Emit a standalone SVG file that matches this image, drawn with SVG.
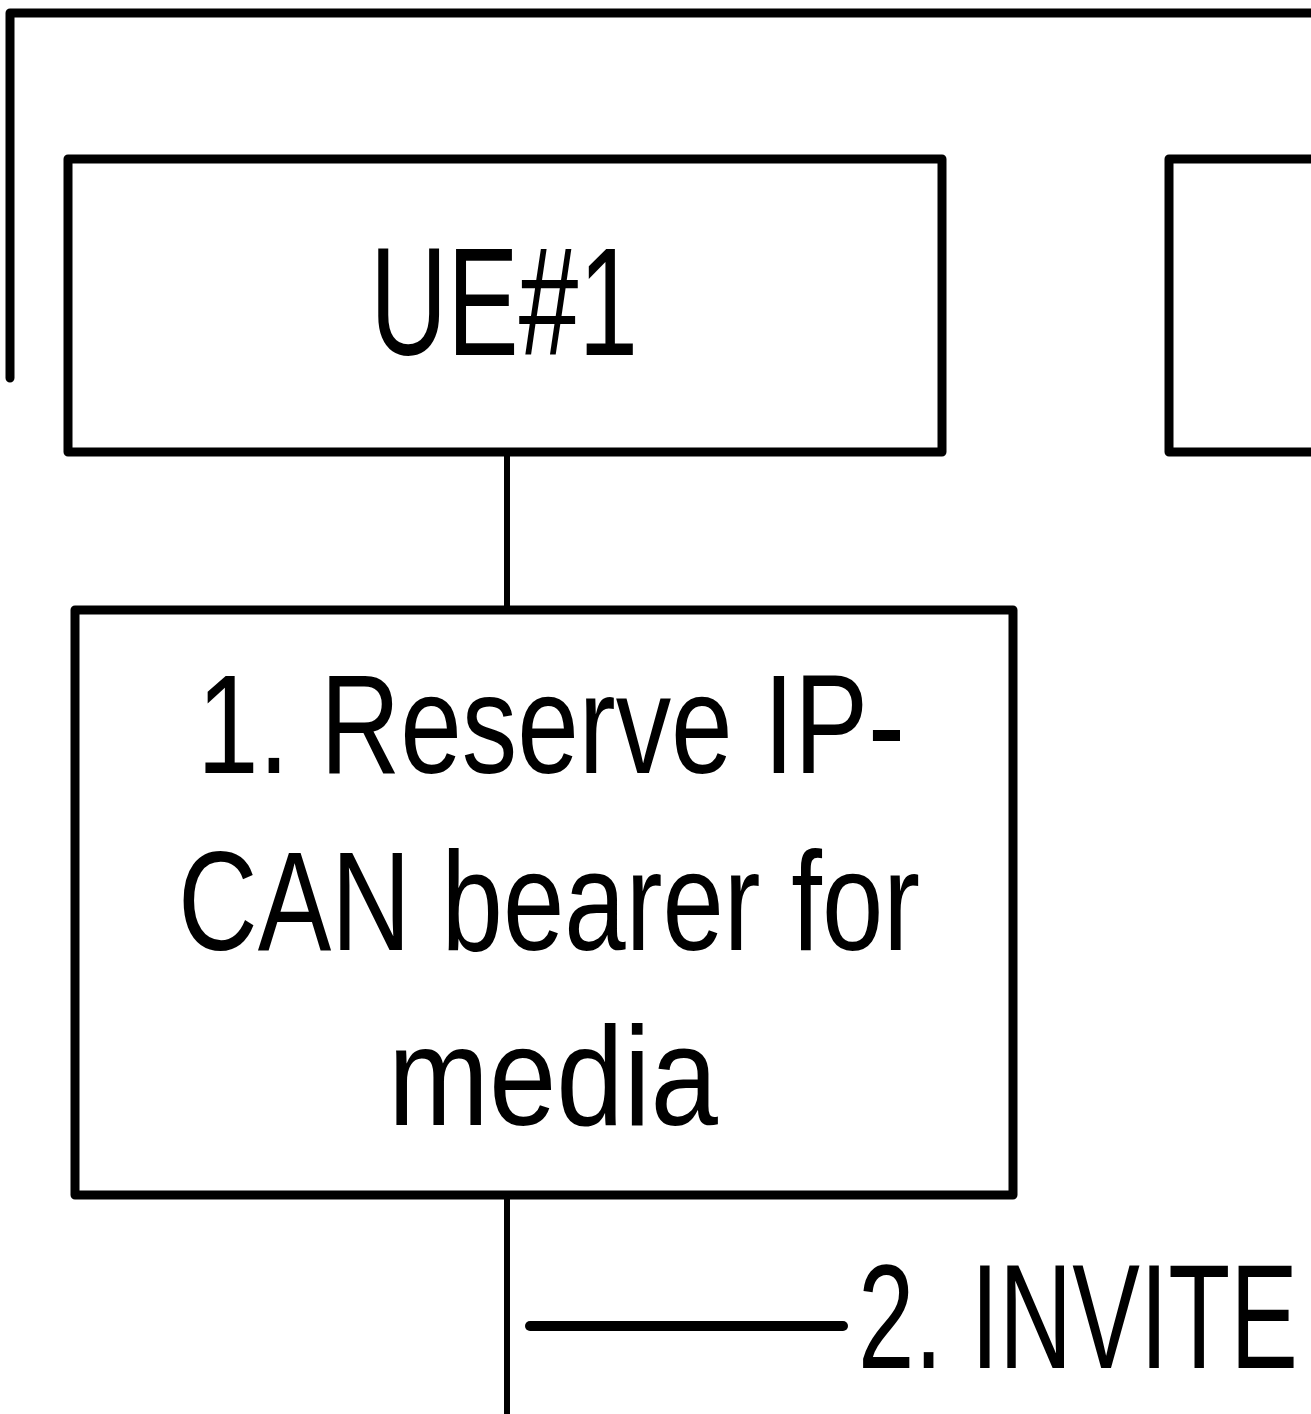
<svg xmlns="http://www.w3.org/2000/svg" width="1311" height="1414" viewBox="0 0 1311 1414">
<style>
.box{fill:#fff;stroke:#000;stroke-width:9;stroke-linejoin:round}
.frame{fill:none;stroke:#000;stroke-width:9;stroke-linecap:round;stroke-linejoin:round}
.conn{stroke:#000;stroke-width:6;fill:none}
.t{font-family:"Liberation Sans",Arial,sans-serif;fill:#000}
</style>
<rect width="1311" height="1414" fill="#fff"/>
<g id="frame">
<path class="frame" d="M10,378 V13 H1330"/>
</g>
<g id="connectors">
<line class="conn" x1="507" y1="452" x2="507" y2="610"/>
<line class="conn" x1="507" y1="1195" x2="507" y2="1414"/>
<line x1="530" y1="1326" x2="843" y2="1326" stroke="#000" stroke-width="10" stroke-linecap="round"/>
<text class="t" x="858" y="1368" font-size="148" textLength="440" lengthAdjust="spacingAndGlyphs">2. INVITE</text>
</g>
<g id="ue1">
<rect class="box" x="68" y="159" width="874" height="293"/>
<text class="t" x="370" y="355" font-size="154" textLength="268" lengthAdjust="spacingAndGlyphs">UE#1</text>
</g>
<g id="node-right">
<rect class="box" x="1169" y="159" width="200" height="293"/>
</g>
<g id="step1">
<rect class="box" x="75" y="610" width="938" height="585"/>
<text class="t" x="197" y="773" font-size="141" textLength="708" lengthAdjust="spacingAndGlyphs">1. Reserve IP-</text>
<text class="t" x="178" y="950" font-size="141" textLength="742" lengthAdjust="spacingAndGlyphs">CAN bearer for</text>
<text class="t" x="388" y="1125" font-size="141" textLength="330" lengthAdjust="spacingAndGlyphs">media</text>
</g>
</svg>
